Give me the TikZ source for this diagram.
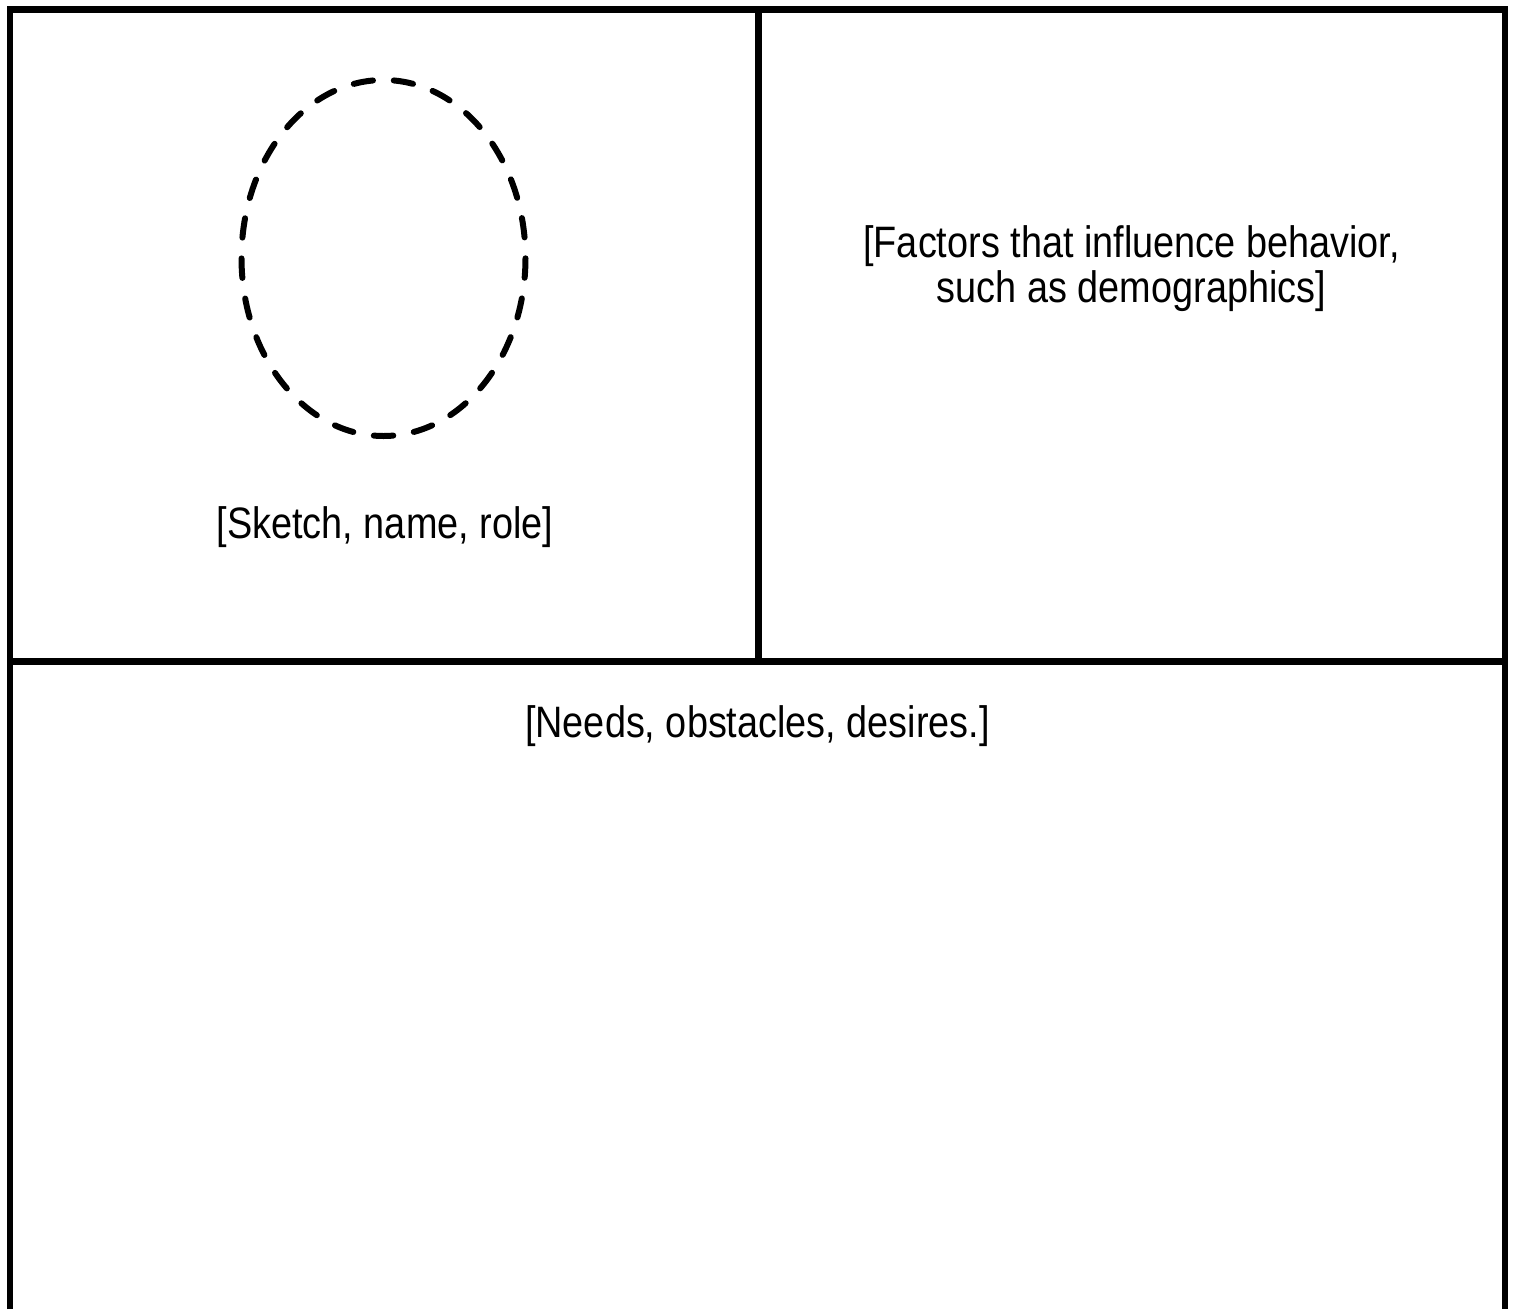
\documentclass[tikz,border=0pt]{standalone}
\usepackage{fontspec}
\setmainfont{Liberation Sans}[FakeStretch=0.86]
\begin{document}
\begin{tikzpicture}[x=1pt,y=-1pt,
  frame/.style={line width=6.5pt,line join=miter,line cap=butt},
  label/.style={font=\fontsize{44}{45}\selectfont,inner sep=0pt,anchor=base,align=center},
  facehead/.style={line width=6pt,line cap=round,dash pattern=on 19.5pt off 20.84pt,dash phase=40.03pt}]
\useasboundingbox (0,0) rectangle (1515,1309);
\coordinate (bl) at (10,1309);
\coordinate (tl) at (10,9.3);
\coordinate (tr) at (1505.2,9.3);
\coordinate (br) at (1505.2,1309);
\coordinate (ml) at (10,661.7);
\coordinate (mr) at (1505.2,661.7);
\coordinate (mt) at (758.3,9.3);
\coordinate (mm) at (758.3,661.7);
\draw[frame] (bl) -- (tl) -- (tr) -- (br);
\draw[frame] (ml) -- (mr);
\draw[frame] (mt) -- (mm);
\coordinate (face) at (383.5,258);
\draw[facehead] (face) ellipse [x radius=142, y radius=178];
\node[label] (sketch) at (385,538) {[Sketch, name, role]};
\node[label] (factors) at (1131.5,302) {[Factors that influence behavior,\\such as demographics]};
\node[label] (needs) at (757.5,737.5) {[Needs, obstacles, desires.]};
\end{tikzpicture}
\end{document}
